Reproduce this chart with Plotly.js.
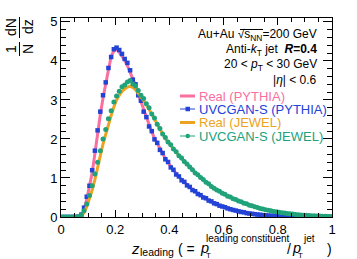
<!DOCTYPE html>
<html>
<head>
<meta charset="utf-8">
<script src="https://cdn.plot.ly/plotly-3.0.1.min.js"></script>
<style>html,body{margin:0;padding:0;background:#fff;}#chart{width:357px;height:259px;}</style>
</head>
<body>
<div id="chart"></div>
<script>
// bin centres of z_leading (bin width 0.01)
const zBins = [];
for (let i = 0; i < 100; i++) zBins.push(+(0.005 + i * 0.01).toFixed(3));

const realPythia = [0,0,0,0,0,0,0.005,0.04,0.19,0.46,
  0.76,1.13,1.62,2.15,2.62,3.05,3.38,3.76,4.12,4.26,
  4.30,4.22,4.12,4.02,3.88,3.72,3.55,3.37,3.15,2.95,
  2.73,2.53,2.35,2.18,2.02,1.88,1.74,1.62,1.50,1.39,
  1.29,1.19,1.11,1.03,0.96,0.89,0.82,0.76,0.70,0.65,
  0.60,0.55,0.51,0.47,0.43,0.39,0.35,0.32,0.29,0.27,
  0.24,0.22,0.20,0.18,0.16,0.145,0.13,0.115,0.10,0.09,
  0.08,0.07,0.063,0.055,0.048,0.042,0.037,0.032,0.028,0.024,
  0.021,0.018,0.016,0.014,0.012,0.010,0.009,0.008,0.007,0.006,
  0.005,0.005,0.004,0.004,0.003,0.003,0.003,0.002,0.002,0.002];

const uvcganPythia = [0,0,0,0,0,0,0.01,0.06,0.24,0.52,
  0.80,1.20,1.70,2.22,2.70,3.12,3.45,3.82,4.10,4.30,
  4.34,4.28,4.18,4.05,3.95,3.76,3.52,3.40,3.12,2.98,
  2.70,2.56,2.32,2.20,1.99,1.90,1.72,1.64,1.48,1.41,
  1.27,1.21,1.09,1.04,0.94,0.90,0.81,0.77,0.69,0.66,
  0.59,0.56,0.50,0.48,0.42,0.40,0.35,0.33,0.29,0.27,
  0.25,0.22,0.20,0.18,0.165,0.145,0.13,0.12,0.10,0.09,
  0.082,0.072,0.063,0.057,0.048,0.043,0.037,0.033,0.028,0.025,
  0.021,0.019,0.016,0.014,0.012,0.011,0.009,0.008,0.007,0.006,
  0.005,0.005,0.004,0.004,0.003,0.003,0.003,0.002,0.002,0.002];

const realJewel = [0,0,0,0,0,0,0.005,0.03,0.11,0.26,
  0.46,0.69,0.96,1.28,1.58,1.87,2.12,2.38,2.60,2.82,
  3.00,3.12,3.22,3.28,3.33,3.35,3.32,3.26,3.18,3.08,
  2.98,2.88,2.76,2.63,2.50,2.37,2.24,2.12,2.01,1.92,
  1.83,1.74,1.65,1.57,1.49,1.42,1.35,1.28,1.20,1.13,
  1.07,1.01,0.95,0.89,0.84,0.78,0.73,0.69,0.65,0.61,
  0.57,0.53,0.50,0.47,0.44,0.41,0.38,0.35,0.33,0.30,
  0.28,0.26,0.24,0.22,0.20,0.18,0.17,0.155,0.14,0.13,
  0.12,0.11,0.10,0.09,0.08,0.072,0.065,0.058,0.052,0.046,
  0.041,0.037,0.033,0.030,0.027,0.024,0.021,0.018,0.015,0.012];

const uvcganJewel = [0,0,0,0,0,0,0.01,0.05,0.16,0.33,
  0.55,0.80,1.10,1.40,1.70,2.00,2.24,2.52,2.72,2.95,
  3.10,3.22,3.34,3.38,3.46,3.50,3.41,3.36,3.24,3.12,
  3.04,2.90,2.80,2.64,2.54,2.38,2.27,2.13,2.04,1.92,
  1.85,1.74,1.67,1.57,1.51,1.42,1.36,1.28,1.21,1.13,
  1.08,1.01,0.96,0.89,0.85,0.78,0.74,0.69,0.66,0.61,
  0.58,0.53,0.51,0.47,0.45,0.41,0.39,0.35,0.34,0.30,
  0.29,0.26,0.245,0.22,0.205,0.185,0.17,0.158,0.142,0.132,
  0.12,0.112,0.10,0.092,0.081,0.074,0.066,0.059,0.053,0.047,
  0.042,0.037,0.034,0.030,0.027,0.024,0.021,0.018,0.016,0.013];

const seriesNames = ["Real (PYTHIA)", "UVCGAN-S (PYTHIA)", "Real (JEWEL)", "UVCGAN-S (JEWEL)"];
const PINK = "#f96f9f", BLUE = "#2342d6", ORANGE = "#eca322", GREEN = "#20a27a";
const COLORS = [PINK, BLUE, ORANGE, GREEN];
const FONT = "Liberation Sans, Arial, sans-serif";

const traces = [
  {x: zBins, y: realPythia, name: seriesNames[0], type: "scatter", mode: "lines",
   line: {color: PINK, width: 3}},
  {x: zBins, y: uvcganPythia, name: seriesNames[1], type: "scatter", mode: "markers",
   marker: {color: BLUE, size: 4.5, symbol: "square"}},
  {x: zBins, y: realJewel, name: seriesNames[2], type: "scatter", mode: "lines",
   line: {color: ORANGE, width: 3}},
  {x: zBins, y: uvcganJewel, name: seriesNames[3], type: "scatter", mode: "markers",
   marker: {color: GREEN, size: 5, symbol: "circle"}}
];

// plot area in pixels
const L = 61, R = 332, T = 18, B = 217;
const px = v => (v - L) / (R - L);
const py = v => (B - v) / (B - T);

const f = (size, color) => ({family: FONT, size: size, color: color || "#000"});
const ann = (x, y, text, opts) => Object.assign({
  xref: "paper", yref: "paper", x: px(x), y: py(y), text: text, showarrow: false,
  font: f(12), xanchor: "right", yanchor: "middle", borderpad: 0
}, opts || {});

const annotations = [
  ann(318, 35, "Au+Au \u221As<sub>NN</sub>=200 GeV"),
  ann(318, 50, "Anti-<i>k</i><sub>T</sub> jet  <b><i>R</i>=0.4</b>"),
  ann(318, 65, "20 < <i>p</i><sub>T</sub> < 30 GeV"),
  ann(318, 80, "|<i>\u03b7</i>| < 0.6"),
  // y-axis title as stacked fractions
  ann(11, 27, "dN", {textangle: -90, xanchor: "center", font: f(14)}),
  ann(28, 27, "dz", {textangle: -90, xanchor: "center", font: f(14)}),
  ann(11, 49, "1", {textangle: -90, xanchor: "center", font: f(14)}),
  ann(28, 49, "N", {textangle: -90, xanchor: "center", font: f(14)}),
  // x-axis title, ROOT-like stacked sub/superscripts
  ann(130, 248.5, "<i>z</i>", {xanchor: "left", font: f(15)}),
  ann(139, 252, "leading", {xanchor: "left", font: f(10.5)}),
  ann(177, 248.5, "( =", {xanchor: "left", font: f(14)}),
  ann(198.5, 248, "<i>p</i>", {xanchor: "left", font: f(14.5)}),
  ann(205, 238.5, "leading constituent", {xanchor: "left", font: f(10)}),
  ann(204.5, 255.5, "T", {xanchor: "left", font: f(8)}),
  ann(286, 248.5, "/", {xanchor: "left", font: f(14)}),
  ann(290.5, 248, "<i>p</i>", {xanchor: "left", font: f(14.5)}),
  ann(302, 238.5, "jet", {xanchor: "left", font: f(10)}),
  ann(297, 255.5, "T", {xanchor: "left", font: f(8)}),
  ann(333, 248.5, ")", {font: f(14)})
];

// hand-drawn legend (ROOT style: short samples, coloured text)
const legendY = [96, 109, 122.5, 136];
const shapes = [
  {type: "line", xref: "paper", yref: "paper", x0: px(19.5), x1: px(19.5), y0: py(17), y1: py(38), line: {color: "#000", width: 1}},
  {type: "line", xref: "paper", yref: "paper", x0: px(19.5), x1: px(19.5), y0: py(42), y1: py(56), line: {color: "#000", width: 1}},
  {type: "line", xref: "paper", yref: "paper", x0: px(240), x1: px(263), y0: py(29.5), y1: py(29.5), line: {color: "#000", width: 1}}
];
seriesNames.forEach((nm, i) => {
  const yy = legendY[i];
  const isLine = (i % 2 === 0);
  annotations.push(ann(198, yy, nm, {xanchor: "left", font: f(13, COLORS[i])}));
  shapes.push({type: "line", xref: "paper", yref: "paper", x0: px(180), x1: px(195),
    y0: py(yy), y1: py(yy), line: {color: COLORS[i], width: isLine ? 3 : 1}});
  if (!isLine) {
    shapes.push({type: i === 1 ? "rect" : "circle", xref: "paper", yref: "paper",
      x0: px(185.5), x1: px(190), y0: py(yy - 2.25), y1: py(yy + 2.25),
      fillcolor: COLORS[i], line: {width: 0}});
  }
});

const axisCommon = {
  showline: true, linecolor: "#000", linewidth: 1, mirror: "ticks",
  ticks: "inside", tickcolor: "#000", tickwidth: 1,
  showgrid: false, zeroline: false,
  tickfont: f(13)
};

const layout = {
  width: 357, height: 259,
  margin: {l: L, r: 357 - R, t: T, b: 259 - B},
  paper_bgcolor: "#fff", plot_bgcolor: "#fff",
  font: {family: FONT, color: "#000"},
  showlegend: false,
  xaxis: Object.assign({}, axisCommon, {range: [0, 1], dtick: 0.2, tick0: 0, ticklen: 7,
    minor: {dtick: 0.05, ticklen: 4, ticks: "inside", tickcolor: "#000"}}),
  yaxis: Object.assign({}, axisCommon, {range: [0, 5.1], dtick: 1, tick0: 0, ticklen: 9,
    minor: {dtick: 0.2, ticklen: 5, ticks: "inside", tickcolor: "#000"}}),
  annotations: annotations,
  shapes: shapes
};

Plotly.newPlot("chart", traces, layout, {staticPlot: true, displayModeBar: false});
</script>
</body>
</html>
